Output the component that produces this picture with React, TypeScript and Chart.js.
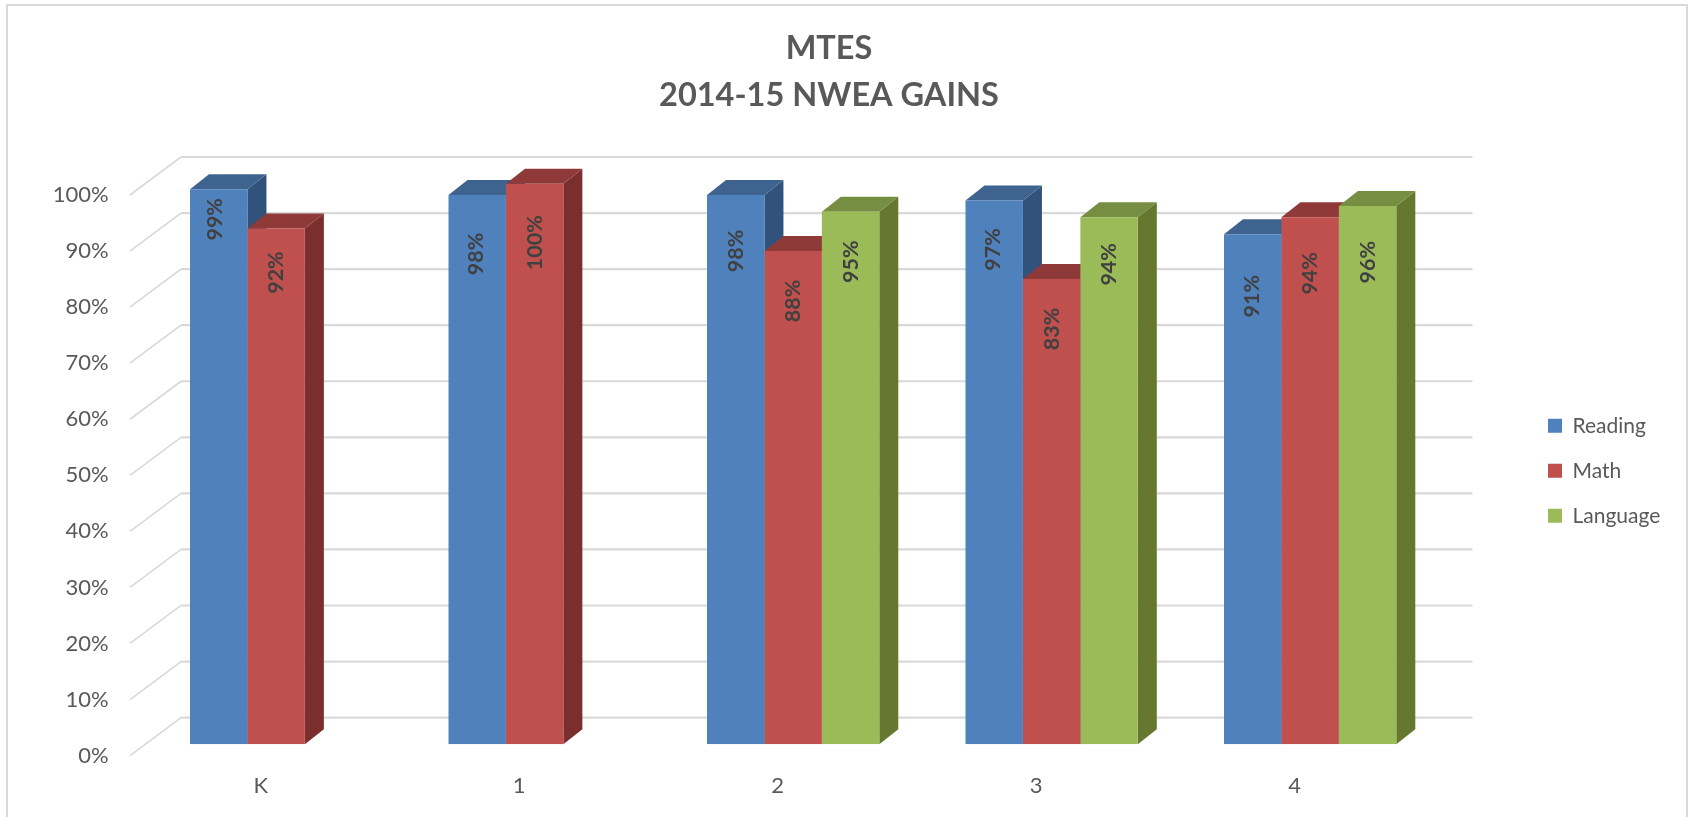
import React, { useEffect, useRef } from "react";
import { Chart, registerables } from "chart.js";

Chart.register(...registerables);

const categories = ["K", "1", "2", "3", "4"];
const reading = [99, 98, 98, 97, 91];
const math = [92, 100, 88, 83, 94];
const language = [null, null, 95, 94, 96];
const seriesNames = ["Reading", "Math", "Language"];
const titleLines = ["MTES", "2014-15 NWEA GAINS"];

// Hand placement of each value label below its bar's top, as in the reference.
const labelDrop = [
  [30, 59, 56, 49, 62],
  [44, 59, 50, 50, 56],
  [0, 0, 50, 47, 56],
];
const labelShift = [
  [-3.5, -1, 0, -1, -1],
  [0, 0, 0, 0, 0],
  [0, 0, 0, 0, 0],
];

const FONT = "Lato";
const front = ["#4F81BD", "#C0504D", "#9BBB59"];
const topFace = ["#3F638F", "#8F3938", "#768E41"];
const sideFace = ["#31527B", "#7A2F2E", "#66772F"];
const BAR_DX = 15.4;
const BAR_DY = -11.3;
const DEPTH_X = 19;
const DEPTH_Y = 15;

const scene = {
  id: "scene3d",
  afterLayout(chart: any) {
    chart.legend.top -= 4.5;
    chart.legend.bottom -= 4.5;
    chart.legend.right += 30;
  },
  beforeDraw(chart: any) {
    const c = chart.ctx;
    c.save();
    c.fillStyle = "#fff";
    c.fillRect(0, 0, chart.width, chart.height);
    c.strokeStyle = "#d9d9d9";
    c.lineWidth = 2;
    c.beginPath();
    c.moveTo(7, 817);
    c.lineTo(7, 5);
    c.lineTo(1687, 5);
    c.lineTo(1687, 817);
    c.stroke();

    const y = chart.scales.y;
    const { left, right } = chart.chartArea;
    y.ticks.forEach((t: any) => {
      const py = y.getPixelForValue(t.value);
      c.lineWidth = 1.6;
      c.beginPath();
      c.moveTo(left - 1.5, py);
      c.lineTo(left + 49.5, py - 38);
      c.stroke();
      c.lineWidth = 2.2;
      c.beginPath();
      c.moveTo(left + 49.5, py - 38);
      c.lineTo(right + 48.5, py - 38);
      c.stroke();
    });
    c.restore();
  },
  beforeDatasetsDraw(chart: any) {
    const c = chart.ctx;
    c.save();
    c.translate(BAR_DX, BAR_DY);
    const count = chart.data.labels.length;
    for (let i = 0; i < count; i++) {
      chart.data.datasets.forEach((ds: any, d: number) => {
        const bar = chart.getDatasetMeta(d).data[i];
        if (ds.data[i] == null || !bar) return;
        const { x, y, base, width } = bar.getProps(["x", "y", "base", "width"], true);
        const l = x - width / 2;
        const r = x + width / 2;
        c.fillStyle = sideFace[d];
        c.beginPath();
        c.moveTo(r, y);
        c.lineTo(r + DEPTH_X, y - DEPTH_Y);
        c.lineTo(r + DEPTH_X, base - DEPTH_Y);
        c.lineTo(r, base);
        c.closePath();
        c.fill();
        c.fillStyle = topFace[d];
        c.beginPath();
        c.moveTo(l, y);
        c.lineTo(l + DEPTH_X, y - DEPTH_Y);
        c.lineTo(r + DEPTH_X, y - DEPTH_Y);
        c.lineTo(r, y);
        c.closePath();
        c.fill();
      });
    }
  },
  afterDatasetsDraw(chart: any) {
    const c = chart.ctx;
    c.font = `bold 21.5px ${FONT}`;
    c.fillStyle = "#404040";
    c.textAlign = "center";
    c.textBaseline = "middle";
    chart.data.datasets.forEach((ds: any, d: number) => {
      chart.getDatasetMeta(d).data.forEach((bar: any, i: number) => {
        if (ds.data[i] == null) return;
        const { x, y } = bar.getProps(["x", "y"], true);
        c.save();
        c.translate(x + labelShift[d][i], y + labelDrop[d][i]);
        c.rotate(-Math.PI / 2);
        c.fillText(`${ds.data[i]}%`, 0, 0);
        c.restore();
      });
    });
    c.restore();
  },
};

export default function App() {
  const ref = useRef<HTMLCanvasElement | null>(null);
  useEffect(() => {
    const chart = new Chart(ref.current as HTMLCanvasElement, {
      type: "bar",
      data: {
        labels: categories,
        datasets: [reading, math, language].map((data, i) => ({
          label: seriesNames[i],
          data,
          backgroundColor: front[i],
          borderWidth: 0,
          barPercentage: 1,
          categoryPercentage: 0.6665,
        })),
      },
      options: {
        responsive: false,
        animation: false,
        layout: { padding: { left: 0, right: 32, top: 0, bottom: 0 } },
        scales: {
          x: {
            grid: { display: false, drawTicks: false },
            border: { display: false },
            ticks: { color: "#595959", font: { family: FONT, size: 22 }, padding: 17.3, maxRotation: 0 },
            afterFit: (s: any) => { s.height = 61.4; },
          },
          y: {
            min: 0,
            max: 100,
            grid: { display: false, drawTicks: false },
            border: { display: false },
            ticks: {
              stepSize: 10,
              color: "#595959",
              font: { family: FONT, size: 22 },
              padding: 22.8,
              callback: (v: any) => `${v}%`,
            },
            afterFit: (s: any) => { s.width = 131.5; },
          },
          spacer: {
            type: "linear",
            position: "right",
            grid: { display: false, drawTicks: false },
            border: { display: false },
            ticks: { display: false },
            afterFit: (s: any) => { s.width = 100; },
          },
        },
        plugins: {
          tooltip: { enabled: false },
          title: {
            display: true,
            text: titleLines,
            color: "#595959",
            font: { family: FONT, size: 32.5, weight: "bold", lineHeight: 47 / 32.5 },
            padding: { top: 25, bottom: 76 },
          },
          legend: {
            position: "right",
            align: "center",
            fullSize: false,
            maxWidth: 134,
            labels: {
              boxWidth: 14,
              boxHeight: 14,
              padding: 24,
              color: "#595959",
              font: { family: FONT, size: 21 },
            },
          },
        },
      },
      plugins: [scene],
    } as any);
    return () => chart.destroy();
  }, []);
  return (
    <canvas
      ref={ref}
      width={1690}
      height={817}
      style={{ position: "absolute", left: 0, top: 0, display: "block", width: 1690, height: 817 }}
    />
  );
}
